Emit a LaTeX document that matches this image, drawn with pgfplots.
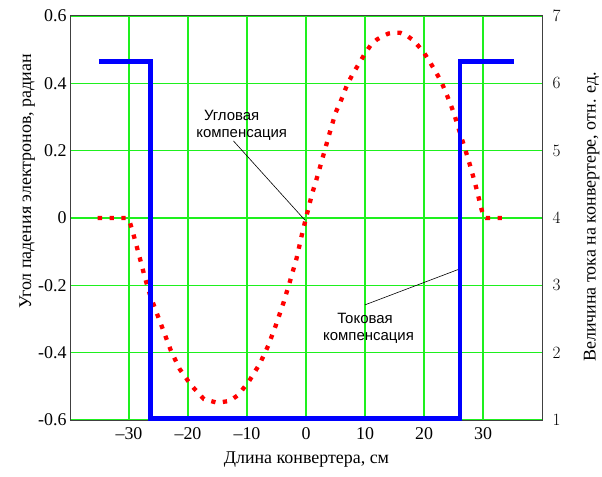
\documentclass[border=0pt]{standalone}
\usepackage{fontspec}
\setmainfont{Liberation Serif}
\newfontfamily\sans{Liberation Sans}
\usepackage{pgfplots}
\pgfplotsset{compat=1.18}
\definecolor{gridgreen}{RGB}{30,240,30}
\definecolor{cblue}{RGB}{0,0,255}
\definecolor{cred}{RGB}{255,0,0}
\begin{document}
\begin{tikzpicture}
\useasboundingbox (-70bp,-57bp) rectangle (532bp,420bp);
\begin{axis}[
  scale only axis, width=472bp, height=404bp,
  xmin=-40, xmax=40, ymin=-0.6, ymax=0.6,
  xtick={-30,-20,-10,0,10,20,30},
  xticklabels={\textendash30,\textendash20,\textendash10,0,10,20,30},
  ytick={-0.6,-0.4,-0.2,0,0.2,0.4,0.6},
  yticklabels={-0.6,-0.4,-0.2,0,0.2,0.4,0.6},
  xtick pos=bottom, ytick pos=left,
  major tick length=0pt,
  grid=major, major grid style={gridgreen, line width=1.2bp},
  axis line style={black!75, line width=1bp},
  tick label style={font=\fontsize{18}{18}\selectfont},
  xticklabel style={yshift=-4bp},
  clip=false,
]
\addplot[cred, line width=4.3bp, line cap=butt, dash pattern=on 4.3bp off 7.5bp] coordinates {
(-35.3,0) (-30.4,0) (-29.9,-0.010) (-29.3,-0.045) (-28.3,-0.110) (-27.3,-0.177)
(-26.5,-0.225) (-25.5,-0.273) (-24.2,-0.333) (-22.9,-0.394) (-21.4,-0.449)
(-19.5,-0.496) (-17.3,-0.538) (-15.0,-0.549) (-12.9,-0.543) (-11.5,-0.526)
(-9.7,-0.486) (-7.8,-0.432) (-6.4,-0.379) (-5.1,-0.318) (-3.8,-0.251)
(-2.7,-0.187) (-1.6,-0.120) (-0.7,-0.050) (0,0)
(1,0.070) (2,0.128) (3,0.190) (4,0.252) (5,0.312) (6,0.352) (7,0.397)
(8,0.430) (9,0.459) (10,0.489) (11,0.514) (12,0.530) (13,0.540) (14,0.548)
(15,0.551) (16,0.550) (17,0.543) (18,0.530) (19,0.512) (20,0.491) (21,0.463)
(22,0.434) (23,0.402) (24,0.360) (25,0.315) (26,0.258) (27,0.203) (28,0.145)
(29,0.080) (29.6,0.035) (30.1,0.004) (30.5,0) (33.6,0)
};
\draw[black, line width=0.6bp] (axis cs:-12.3,0.229) -- (axis cs:-0.2,-0.006);
\draw[black, line width=0.6bp] (axis cs:10.0,-0.258) -- (axis cs:26.4,-0.149);
\node[font=\sans\fontsize{15}{15}\selectfont] at (axis cs:-12.6,0.306) {Угловая};
\node[font=\sans\fontsize{15}{15}\selectfont] at (axis cs:-10.9,0.247) {компенсация};
\node[font=\sans\fontsize{15}{15}\selectfont] at (axis cs:10.0,-0.298) {Токовая};
\node[font=\sans\fontsize{15}{15}\selectfont] at (axis cs:10.6,-0.357) {компенсация};
\node[font=\fontsize{18}{18}\selectfont] at (rel axis cs:0.501,-0.099) {Длина конвертера, см};
\node[font=\fontsize{18}{18}\selectfont, rotate=90] at (rel axis cs:-0.091,0.590) {Угол падения электронов, радиан};
\node[font=\fontsize{18}{18}\selectfont, rotate=90] at (rel axis cs:1.105,0.5025) {Величина тока на конвертере, отн. ед.};
\end{axis}
\begin{axis}[
  scale only axis, width=472bp, height=404bp,
  xmin=-40, xmax=40, ymin=1, ymax=7,
  axis x line=none, axis y line*=right,
  ytick={1,2,3,4,5,6,7},
  major tick length=0pt,
  axis line style={black!75, line width=1bp},
  tick label style={font=\fontsize{18}{18}\selectfont},
  yticklabel style={xshift=7bp},
  clip=false,
]
\addplot[cblue, line width=4.8bp, line join=miter] coordinates {
(-35.1,6.32) (-26.4,6.32) (-26.4,1.02) (26.1,1.02) (26.1,6.32) (35.3,6.32)
};
\end{axis}
\end{tikzpicture}
\end{document}
